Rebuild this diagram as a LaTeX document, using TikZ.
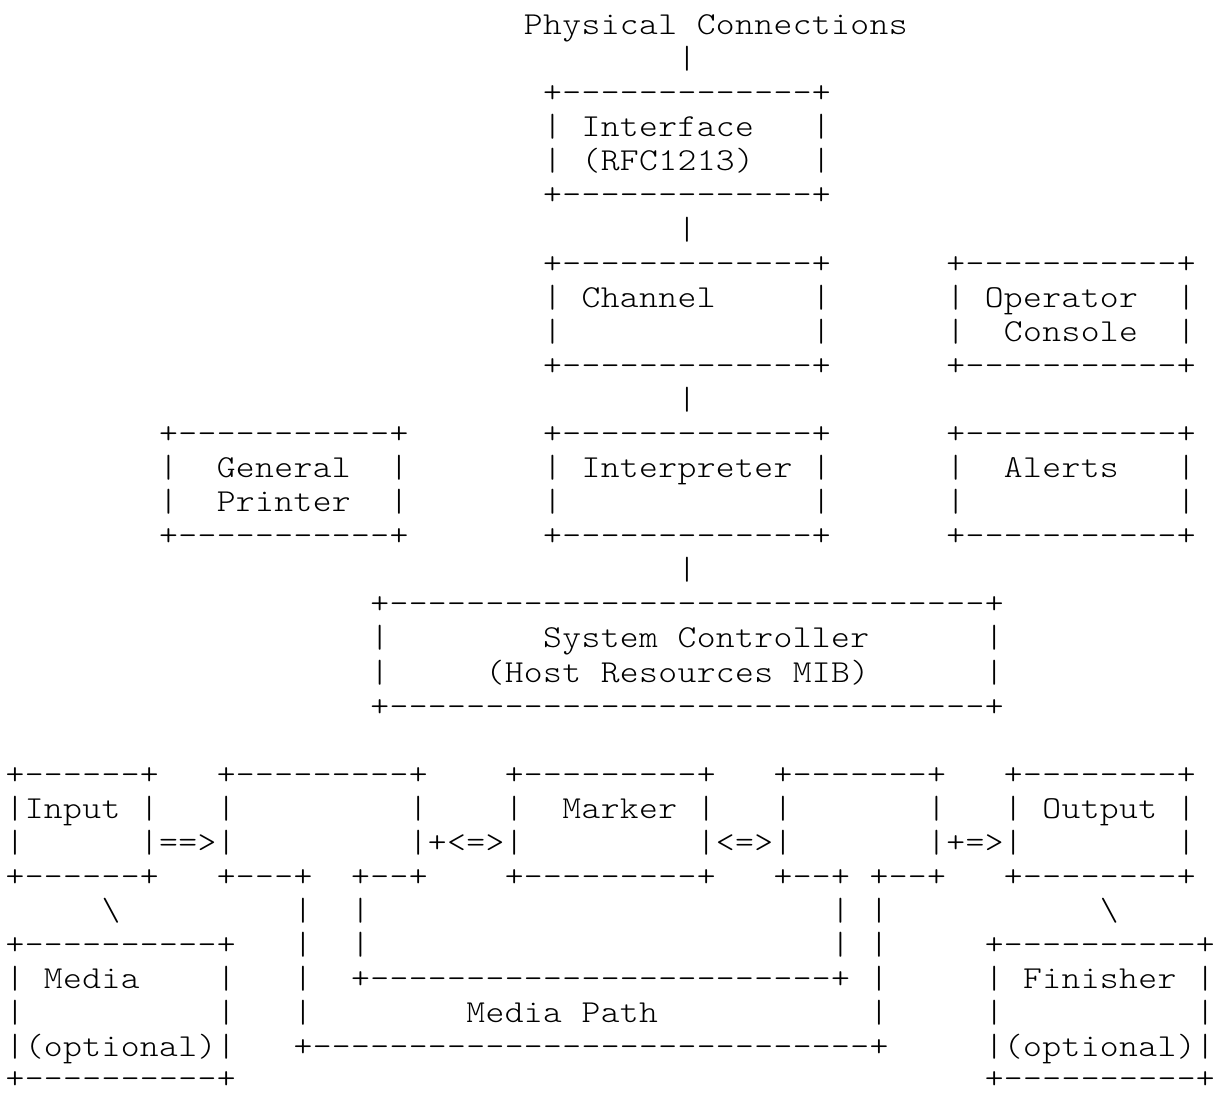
\documentclass[tikz,border=0pt]{standalone}
\usepackage{fontspec}
\newfontfamily\asciifont{lmmonolt10-regular.otf}
\usepackage{tikz}
\newlength{\charw}
\setlength{\charw}{9.6pt}
% one character per cell, \gapc{n} leaves n empty cells
\newcommand{\gapc}[1]{\hspace*{#1\charw}}
\def\monoloop#1{%
  \ifx#1\relax \let\next\relax
  \else\ifx#1\gapc \let\next\monogap
  \else \makebox[\charw]{\scalebox{1.12}[1]{#1}}\let\next\monoloop \fi\fi
  \next}
\def\monogap#1{\gapc{#1}\monoloop}
\newcommand{\monorow}[1]{\monoloop#1\relax}
\tikzset{
  asciiline/.style={anchor=base west, inner sep=0pt, outer sep=0pt, text depth=0pt,
    font=\asciifont\fontsize{16pt}{17pt}\selectfont}
}

\begin{document}
\begin{tikzpicture}[x=0.5pt, y=-0.5pt]
    \fill[white] (0,0) rectangle (1215,1092);
    \useasboundingbox (0,0) rectangle (1215,1092);

    % Interface and channel
    \node[asciiline] (r0)  at (5.4, 34.55)  {\monorow{\gapc{27}Physical\gapc{1}Connections}};
    \node[asciiline] (r1)  at (5.4, 68.63)  {\monorow{\gapc{35}|}};
    \node[asciiline] (r2)  at (5.4, 102.71) {\monorow{\gapc{28}+-------------+}};
    \node[asciiline] (r3)  at (5.4, 136.79) {\monorow{\gapc{28}|\gapc{1}Interface\gapc{3}|}};
    \node[asciiline] (r4)  at (5.4, 170.87) {\monorow{\gapc{28}|\gapc{1}(RFC1213)\gapc{3}|}};
    \node[asciiline] (r5)  at (5.4, 204.95) {\monorow{\gapc{28}+-------------+}};
    \node[asciiline] (r6)  at (5.4, 239.03) {\monorow{\gapc{35}|}};
    \node[asciiline] (r7)  at (5.4, 273.11) {\monorow{\gapc{28}+-------------+\gapc{6}+-----------+}};
    \node[asciiline] (r8)  at (5.4, 307.19) {\monorow{\gapc{28}|\gapc{1}Channel\gapc{5}|\gapc{6}|\gapc{1}Operator\gapc{2}|}};
    \node[asciiline] (r9)  at (5.4, 341.27) {\monorow{\gapc{28}|\gapc{13}|\gapc{6}|\gapc{2}Console\gapc{2}|}};
    \node[asciiline] (r10) at (5.4, 375.35) {\monorow{\gapc{28}+-------------+\gapc{6}+-----------+}};
    \node[asciiline] (r11) at (5.4, 409.43) {\monorow{\gapc{35}|}};

    % Printer, interpreter, alerts
    \node[asciiline] (r12) at (5.4, 443.51) {\monorow{\gapc{8}+-----------+\gapc{7}+-------------+\gapc{6}+-----------+}};
    \node[asciiline] (r13) at (5.4, 477.59) {\monorow{\gapc{8}|\gapc{2}General\gapc{2}|\gapc{7}|\gapc{1}Interpreter\gapc{1}|\gapc{6}|\gapc{2}Alerts\gapc{3}|}};
    \node[asciiline] (r14) at (5.4, 511.67) {\monorow{\gapc{8}|\gapc{2}Printer\gapc{2}|\gapc{7}|\gapc{13}|\gapc{6}|\gapc{11}|}};
    \node[asciiline] (r15) at (5.4, 545.75) {\monorow{\gapc{8}+-----------+\gapc{7}+-------------+\gapc{6}+-----------+}};
    \node[asciiline] (r16) at (5.4, 579.83) {\monorow{\gapc{35}|}};

    % System controller
    \node[asciiline] (r17) at (5.4, 613.91) {\monorow{\gapc{19}+-------------------------------+}};
    \node[asciiline] (r18) at (5.4, 647.99) {\monorow{\gapc{19}|\gapc{8}System\gapc{1}Controller\gapc{6}|}};
    \node[asciiline] (r19) at (5.4, 682.07) {\monorow{\gapc{19}|\gapc{5}(Host\gapc{1}Resources\gapc{1}MIB)\gapc{6}|}};
    \node[asciiline] (r20) at (5.4, 716.15) {\monorow{\gapc{19}+-------------------------------+}};

    % Input, marker, output and media path
    \node[asciiline] (r22) at (5.4, 784.31) {\monorow{+------+\gapc{3}+---------+\gapc{4}+---------+\gapc{3}+-------+\gapc{3}+--------+}};
    \node[asciiline] (r23) at (5.4, 818.39) {\monorow{|Input\gapc{1}|\gapc{3}|\gapc{9}|\gapc{4}|\gapc{2}Marker\gapc{1}|\gapc{3}|\gapc{7}|\gapc{3}|\gapc{1}Output\gapc{1}|}};
    \node[asciiline] (r24) at (5.4, 852.47) {\monorow{|\gapc{6}|==>|\gapc{9}|+<=>|\gapc{9}|<=>|\gapc{7}|+=>|\gapc{8}|}};
    \node[asciiline] (r25) at (5.4, 886.55) {\monorow{+------+\gapc{3}+---+\gapc{2}+--+\gapc{4}+---------+\gapc{3}+--+\gapc{1}+--+\gapc{3}+--------+}};
    \node[asciiline] (r26) at (5.4, 920.63) {\monorow{\gapc{5}\textbackslash\gapc{9}|\gapc{2}|\gapc{24}|\gapc{1}|\gapc{11}\textbackslash}};
    \node[asciiline] (r27) at (5.4, 954.71) {\monorow{+----------+\gapc{3}|\gapc{2}|\gapc{24}|\gapc{1}|\gapc{5}+----------+}};
    \node[asciiline] (r28) at (5.4, 988.79) {\monorow{|\gapc{1}Media\gapc{4}|\gapc{3}|\gapc{2}+------------------------+\gapc{1}|\gapc{5}|\gapc{1}Finisher\gapc{1}|}};
    \node[asciiline] (r29) at (5.4, 1022.87) {\monorow{|\gapc{10}|\gapc{3}|\gapc{8}Media\gapc{1}Path\gapc{11}|\gapc{5}|\gapc{10}|}};
    \node[asciiline] (r30) at (5.4, 1056.95) {\monorow{|(optional)|\gapc{3}+-----------------------------+\gapc{5}|(optional)|}};
    \node[asciiline] (r31) at (5.4, 1088.6) {\monorow{+----------+\gapc{39}+----------+}};
\end{tikzpicture}
\end{document}
